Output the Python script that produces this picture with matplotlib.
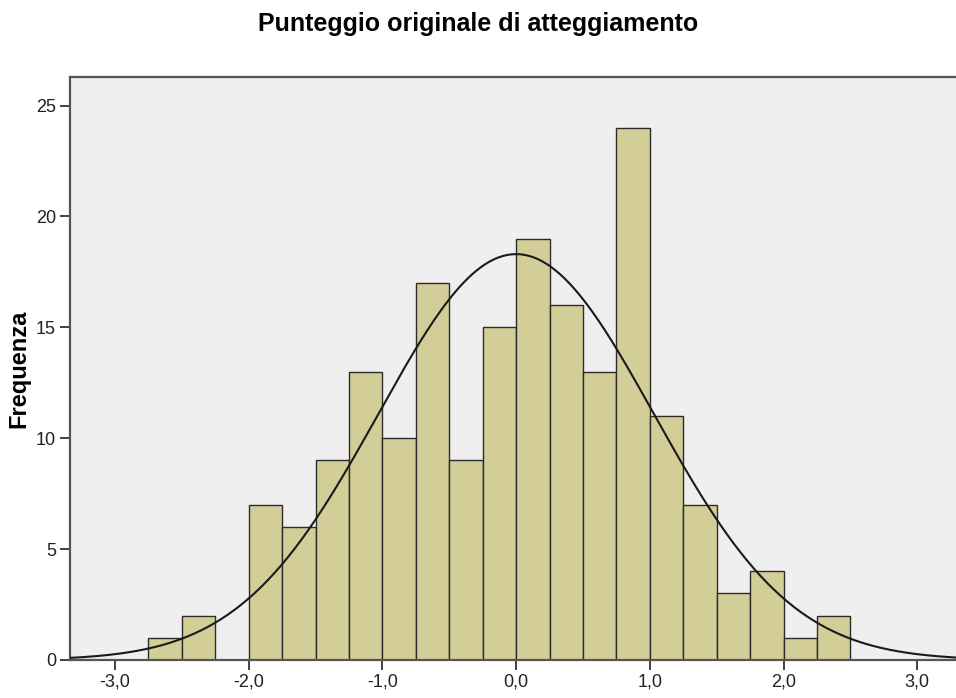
import numpy as np
import matplotlib.pyplot as plt
from matplotlib.ticker import FuncFormatter

# histogram bins (width 0.25) and counts
bin_edges = [-2.75, -2.5, -2.25, -2.0, -1.75, -1.5, -1.25, -1.0, -0.75, -0.5, -0.25,
             0.0, 0.25, 0.5, 0.75, 1.0, 1.25, 1.5, 1.75, 2.0, 2.25, 2.5]
counts = [1, 2, 0, 7, 6, 9, 13, 10, 17, 9, 15, 19, 16, 13, 24, 11, 7, 3, 4, 1, 2]

# fitted normal curve
curve_mean = 0.0
curve_std = 1.03

x_ticks = [-3.0, -2.0, -1.0, 0.0, 1.0, 2.0, 3.0]
y_ticks = [0, 5, 10, 15, 20, 25]

plt.rcParams['font.family'] = ['Liberation Sans', 'DejaVu Sans']

fig = plt.figure(figsize=(9.56, 6.98), dpi=100)
ax = fig.add_axes([70 / 956, 38 / 698, 1 - 70 / 956, 583.3 / 698])
ax.set_facecolor('#efefef')

edges = np.array(bin_edges)
widths = np.diff(edges)
ax.bar(edges[:-1], counts, width=widths, align='edge',
       color='#d3ce97', edgecolor='#2b2b2b', linewidth=1.0, zorder=2)

xlim = (-3.337, 3.29)
xs = np.linspace(xlim[0], xlim[1], 400)
n = sum(counts)
bw = widths[0]
ys = n * bw / (curve_std * np.sqrt(2 * np.pi)) * np.exp(-0.5 * ((xs - curve_mean) / curve_std) ** 2)
ax.plot(xs, ys, color='#1a1a1a', linewidth=1.5, zorder=3)

ax.set_xlim(*xlim)
ax.set_ylim(0, 26.3)
ax.set_xticks(x_ticks)
ax.set_yticks(y_ticks)
ax.xaxis.set_major_formatter(FuncFormatter(lambda v, p: f'{v:.1f}'.replace('.', ',')))
ax.tick_params(direction='out', length=7, width=1.3, color='#333333',
               labelsize=13, labelcolor='#222222', pad=3)

for side in ['top', 'left', 'bottom']:
    ax.spines[side].set_color('#555555')
    ax.spines[side].set_linewidth(1.6)
ax.spines['right'].set_visible(False)

ax.set_ylabel('Frequenza', fontsize=17, fontweight='bold', labelpad=4)
fig.text(0.5, 0.966, 'Punteggio originale di atteggiamento', ha='center', va='center',
         fontsize=18, fontweight='bold')

fig.savefig('out.png', dpi=100)
